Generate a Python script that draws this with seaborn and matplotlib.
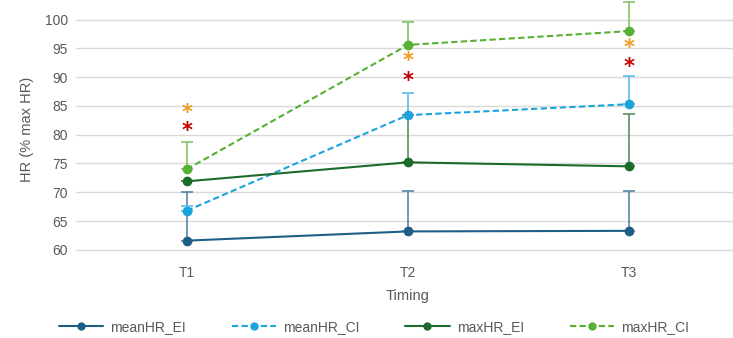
import matplotlib
matplotlib.use("Agg")
import matplotlib.pyplot as plt
import seaborn as sns
import pandas as pd
from matplotlib.lines import Line2D

timing = ["T1", "T2", "T3"]
series = ["meanHR_EI", "meanHR_CI", "maxHR_EI", "maxHR_CI"]
meanHR_EI = [61.6, 63.2, 63.3]
meanHR_CI = [66.8, 83.4, 85.3]
maxHR_EI = [71.9, 75.2, 74.5]
maxHR_CI = [74.0, 95.6, 98.0]
err_meanHR_EI = [8.5, 7.0, 6.9]
err_meanHR_CI = [0.9, 3.9, 4.9]
err_maxHR_EI = [0.0, 8.2, 9.1]
err_maxHR_CI = [4.7, 3.9, 5.1]
star_orange = [84.3, 93.3, 95.5]
star_red = [81.1, 89.8, 92.3]

colors = {"meanHR_EI": "#1f5f86", "meanHR_CI": "#1aa3dc",
          "maxHR_EI": "#1d6b2b", "maxHR_CI": "#56b033"}
errcolors = {"meanHR_EI": "#5a86a5", "meanHR_CI": "#5bbde6",
             "maxHR_EI": "#5a8e62", "maxHR_CI": "#86c46a"}
dashes = {"meanHR_EI": "", "meanHR_CI": (3, 1.6), "maxHR_EI": "", "maxHR_CI": (3, 1.6)}

vals = {"meanHR_EI": meanHR_EI, "meanHR_CI": meanHR_CI,
        "maxHR_EI": maxHR_EI, "maxHR_CI": maxHR_CI}
errs = {"meanHR_EI": err_meanHR_EI, "meanHR_CI": err_meanHR_CI,
        "maxHR_EI": err_maxHR_EI, "maxHR_CI": err_maxHR_CI}

rows = []
for s in series:
    for t, v in zip(timing, vals[s]):
        rows.append({"Timing": t, "HR": v, "Series": s})
df = pd.DataFrame(rows)

sns.set_theme(style="white")
plt.rcParams['font.family'] = ['Liberation Sans', 'DejaVu Sans']
txt = "#595959"

fig = plt.figure(figsize=(7.33, 3.38), dpi=100)
ax = fig.add_axes([0.104, 0.237, 0.905, 0.763])

x_pos = {t: i for i, t in enumerate(timing)}
df["x"] = df["Timing"].map(x_pos)

# error bars (upper only)
for s in series:
    xs = [x_pos[t] for t in timing]
    lower = [0] * len(timing)
    ax.errorbar(xs, vals[s], yerr=[lower, errs[s]], fmt="none",
                ecolor=errcolors[s], elinewidth=1.2, capsize=4, capthick=1.2,
                zorder=2, clip_on=False)

sns.lineplot(data=df, x="x", y="HR", hue="Series", style="Series",
             hue_order=series, style_order=series, palette=colors,
             dashes=dashes, markers={s: "o" for s in series},
             markersize=7, markeredgewidth=0, linewidth=1.5, ax=ax,
             legend=False, zorder=3)

for i, (o, r) in enumerate(zip(star_orange, star_red)):
    for yv, col in ((o, "#f39a1f"), (r, "#c00000")):
        ax.annotate("*", xy=(i, yv), xytext=(0, -2), textcoords="offset points",
                    color=col, fontsize=15, fontweight="bold",
                    ha="center", va="center", family="DejaVu Sans")

ax.set_xlim(-0.5, 2.5)
ax.set_ylim(58.6, 103.4)
ax.set_yticks(range(60, 101, 5))
ax.set_xticks(range(len(timing)))
ax.set_xticklabels(timing)
ax.yaxis.grid(True, color="#d9d9d9", linewidth=1)
ax.set_axisbelow(True)
for sp in ax.spines.values():
    sp.set_visible(False)
ax.tick_params(axis="both", length=0, labelsize=10, colors=txt, pad=6)
ax.set_xlabel("Timing", fontsize=10.5, color=txt, labelpad=6)
ax.set_ylabel("HR (% max HR)", fontsize=10.5, color=txt, labelpad=8)

handles = [Line2D([0], [0], color=colors[s], linewidth=1.5,
                  linestyle="-" if dashes[s] == "" else (0, dashes[s]),
                  marker="o", markersize=6, markeredgewidth=0) for s in series]
fig.legend(handles, series, loc="center", bbox_to_anchor=(0.51, 0.033), ncol=4,
           frameon=False, fontsize=10, labelcolor=txt, handlelength=3.2,
           columnspacing=3.3, handletextpad=0.5)

fig.savefig("out.png", dpi=100)
